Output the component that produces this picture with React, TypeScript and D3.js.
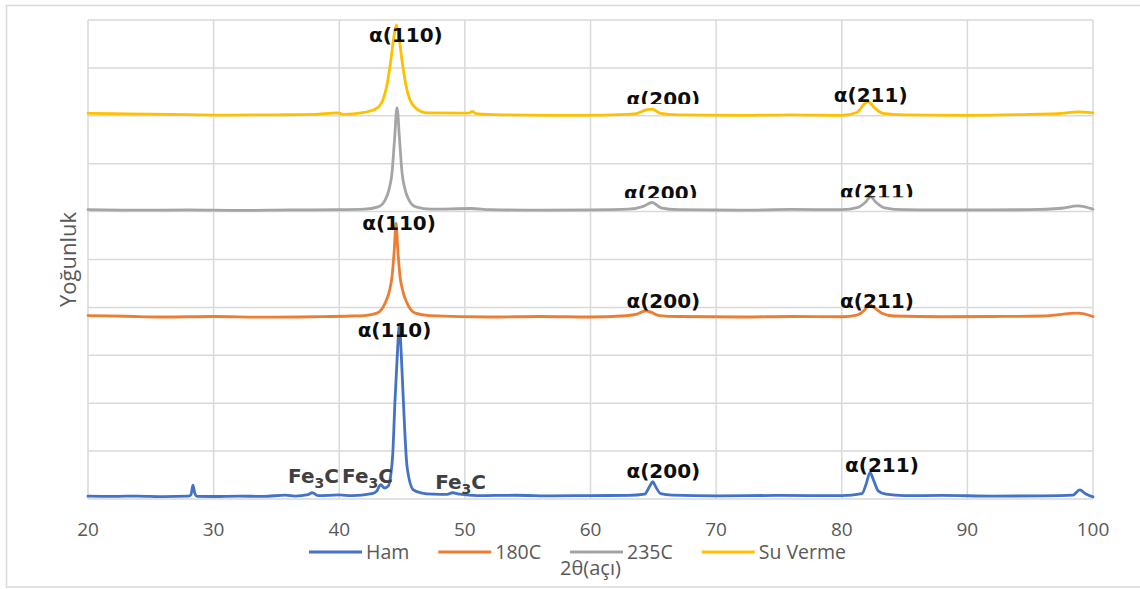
import React, { useEffect, useRef } from 'react';
import * as d3 from 'd3';

const W = 1140;
const H = 589;

// eksen ve seri bilgileri
const xTicks = [20, 30, 40, 50, 60, 70, 80, 90, 100];
const yGrid = [0, 1000, 2000, 3000, 4000, 5000, 6000, 7000, 8000, 9000, 10000];
const seriesNames = ['Ham', '180C', '235C', 'Su Verme'];
const seriesColors = ['#4472C4', '#ED7D31', '#A5A5A5', '#FFC000'];

// [2θ, yoğunluk]
const hamData: [number, number][] = [
  [20, 60], [22, 55], [24, 62], [26, 50], [28, 58], [28.2, 90], [28.35, 290], [28.5, 120], [28.7, 55],
  [30, 52], [32, 60], [34, 55], [35.7, 80], [36.5, 62], [37.5, 90], [37.85, 130], [38.3, 70], [40, 85],
  [41, 70], [42.6, 110], [43.0, 170], [43.3, 300], [43.6, 230], [43.9, 270], [44.1, 500], [44.25, 900],
  [44.44, 2070], [44.62, 3000], [44.78, 3630], [44.94, 3000], [45.1, 2070], [45.4, 670], [45.9, 190],
  [46.5, 130], [47.5, 100], [48.6, 95], [49.0, 130], [49.6, 100], [51, 70], [54, 78], [57, 65], [60, 72],
  [63, 75], [64.3, 100], [64.7, 260], [64.95, 360], [65.2, 250], [65.6, 110], [66.5, 80], [70, 65],
  [75, 75], [80, 70], [81.6, 110], [81.95, 320], [82.25, 550], [82.55, 380], [82.9, 170], [83.5, 100],
  [85, 70], [88, 75], [92, 60], [96, 65], [98.4, 80], [98.95, 190], [99.4, 110], [100, 45],
];

const c180Data: [number, number][] = [
  [20, 3830], [23, 3815], [26, 3800], [30, 3810], [34, 3795], [38, 3805], [41, 3820], [42, 3830],
  [43.0, 3880], [43.65, 4090], [44.0, 4350], [44.2, 4640], [44.38, 5200], [44.52, 5760], [44.66, 5200],
  [44.84, 4640], [45.05, 4350], [45.4, 4090], [46.05, 3880], [47.2, 3830], [52, 3800], [56, 3810],
  [60, 3800], [62.5, 3820], [63.7, 3860], [64.4, 3930], [64.8, 3900], [65.5, 3830], [67, 3810],
  [72, 3800], [76, 3810], [80, 3805], [81.2, 3840], [81.8, 3940], [82.2, 4060], [82.6, 3990],
  [83.2, 3880], [84.2, 3820], [88, 3805], [92, 3810], [96, 3820], [98.8, 3880], [100, 3810],
];

const c235Data: [number, number][] = [
  [20, 6040], [24, 6030], [28, 6035], [32, 6025], [36, 6035], [40, 6040], [42, 6050], [43.1, 6100],
  [43.65, 6240], [44.0, 6500], [44.2, 6810], [44.4, 7500], [44.6, 8170], [44.8, 7500], [45.0, 6810],
  [45.2, 6500], [45.55, 6240], [46.1, 6100], [47.3, 6050], [50.5, 6065], [52, 6040], [56, 6030],
  [60, 6035], [63, 6050], [64.2, 6110], [64.9, 6190], [65.6, 6080], [67, 6040], [72, 6030], [76, 6045],
  [80, 6040], [81.3, 6090], [81.9, 6200], [82.3, 6310], [82.7, 6200], [83.4, 6080], [85, 6040],
  [90, 6035], [95, 6040], [97.5, 6070], [98.8, 6120], [100, 6050],
];

const suVermeData: [number, number][] = [
  [20, 8050], [22, 8045], [25, 8035], [28, 8025], [31, 8015], [35, 8020], [38, 8030], [39.9, 8060],
  [40.3, 8030], [42.0, 8070], [43.0, 8160], [43.5, 8350], [43.8, 8650], [44.1, 9150], [44.35, 9650],
  [44.55, 9900], [44.75, 9650], [45.0, 9150], [45.3, 8650], [45.6, 8350], [46.1, 8160], [47, 8060],
  [50.3, 8055], [50.6, 8090], [50.9, 8045], [53, 8020], [57, 8010], [61, 8015], [63.5, 8040],
  [64.5, 8130], [64.9, 8140], [65.6, 8050], [67, 8020], [72, 8010], [76, 8020], [80, 8010],
  [81.2, 8070], [81.8, 8250], [82.1, 8290], [82.6, 8170], [83.3, 8050], [85, 8020], [90, 8010],
  [95, 8030], [97.5, 8050], [98.8, 8080], [100, 8060],
];

const allSeries = [hamData, c180Data, c235Data, suVermeData];

// pik etiketleri (metin, 2θ, yoğunluk, kesik mi)
const peakLabels = [
  { text: 'α(110)', t: 45.3, v: 9540, cut: false },
  { text: 'α(200)', t: 65.8, v: 8205, cut: true },
  { text: 'α(211)', t: 82.3, v: 8290, cut: false },
  { text: 'α(200)', t: 65.6, v: 6242, cut: true },
  { text: 'α(211)', t: 82.8, v: 6260, cut: true },
  { text: 'α(110)', t: 44.76, v: 5616, cut: false },
  { text: 'α(200)', t: 65.8, v: 3987, cut: false },
  { text: 'α(211)', t: 82.8, v: 3987, cut: false },
  { text: 'α(110)', t: 44.4, v: 3382, cut: false },
  { text: 'α(200)', t: 65.8, v: 438, cut: false },
  { text: 'α(211)', t: 83.2, v: 564, cut: false },
];
const fe3cLabels = [
  { t: 37.95, v: 334 },
  { t: 42.25, v: 334 },
  { t: 49.66, v: 209 },
];

const App: React.FC = () => {
  const svgRef = useRef<SVGSVGElement>(null);

  useEffect(() => {
    if (!svgRef.current) return;
    document.body.style.margin = '0';
    const svg = d3.select(svgRef.current);
    svg.selectAll('*').remove();

    const x = d3.scaleLinear().domain([20, 100]).range([88, 1093]);
    const y = d3.scaleLinear().domain([0, 10000]).range([499, 20]);
    const font = "'Open Sans', sans-serif";

    svg.append('rect').attr('width', W).attr('height', H).attr('fill', '#fff');
    svg.append('rect')
      .attr('x', 6.5).attr('y', 5.5).attr('width', W).attr('height', 581.5)
      .attr('fill', 'none').attr('stroke', '#d9d9d9').attr('stroke-width', 1.5);

    // ızgara
    const grid = svg.append('g').attr('stroke', '#d9d9d9').attr('stroke-width', 1.5);
    grid.selectAll('line.h').data(yGrid).join('line').attr('class', 'h')
      .attr('x1', x(20)).attr('x2', x(100))
      .attr('y1', d => y(d)).attr('y2', d => y(d));
    grid.selectAll('line.v').data(xTicks).join('line').attr('class', 'v')
      .attr('x1', d => x(d)).attr('x2', d => x(d))
      .attr('y1', y(0)).attr('y2', y(10000));

    // x ekseni etiketleri
    svg.append('g').selectAll('text').data(xTicks).join('text')
      .attr('x', d => x(d)).attr('y', 536)
      .attr('text-anchor', 'middle')
      .attr('font-family', font).attr('font-size', 19).attr('fill', '#595959')
      .text(d => d);

    // seriler
    const line = d3.line<[number, number]>()
      .x(d => x(d[0]))
      .y(d => y(d[1]))
      .curve(d3.curveMonotoneX);
    svg.append('g').selectAll('path').data(allSeries).join('path')
      .attr('d', d => line(d))
      .attr('fill', 'none')
      .attr('stroke', (_, i) => seriesColors[i])
      .attr('stroke-width', 2.8)
      .attr('stroke-linejoin', 'round')
      .attr('stroke-linecap', 'round');

    // pik etiketleri
    const defs = svg.append('defs');
    const lab = svg.append('g');
    peakLabels.forEach((p, i) => {
      const t = lab.append('text')
        .attr('x', x(p.t)).attr('y', y(p.v))
        .attr('text-anchor', 'middle')
        .attr('font-family', "'DejaVu Sans', sans-serif")
        .attr('font-weight', 'bold').attr('font-size', 20)
        .attr('fill', '#0d0d0d')
        .text(p.text);
      if (p.cut) {
        defs.append('clipPath').attr('id', `cut${i}`)
          .append('rect')
          .attr('x', x(p.t) - 60).attr('width', 120)
          .attr('y', y(p.v) - 30).attr('height', 28);
        t.attr('clip-path', `url(#cut${i})`);
      }
    });
    fe3cLabels.forEach(f => {
      const t = lab.append('text')
        .attr('x', x(f.t)).attr('y', y(f.v))
        .attr('text-anchor', 'middle')
        .attr('font-family', "'DejaVu Sans', sans-serif")
        .attr('font-weight', 'bold').attr('font-size', 20)
        .attr('fill', '#404040');
      t.append('tspan').text('Fe');
      t.append('tspan').attr('font-size', 14).attr('dy', 5).text('3');
      t.append('tspan').attr('dy', -5).text('C');
    });

    // lejant
    const leg = svg.append('g');
    const items = seriesNames.map((name, i) => {
      const g = leg.append('g');
      g.append('line').attr('x1', 0).attr('x2', 53).attr('y1', 0).attr('y2', 0)
        .attr('stroke', seriesColors[i]).attr('stroke-width', 3);
      const txt = g.append('text').attr('x', 57).attr('y', 7)
        .attr('font-family', font).attr('font-size', 19.5).attr('fill', '#595959')
        .text(name);
      const w = 57 + (txt.node() as SVGTextElement).getComputedTextLength();
      return { g, w };
    });
    const gap = 29;
    const total = d3.sum(items, d => d.w) + gap * (items.length - 1);
    let cx = 577.5 - total / 2;
    items.forEach(it => {
      it.g.attr('transform', `translate(${cx},552)`);
      cx += it.w + gap;
    });

    // eksen başlıkları
    svg.append('text')
      .attr('x', (x(20) + x(100)) / 2).attr('y', 575)
      .attr('text-anchor', 'middle')
      .attr('font-family', font).attr('font-size', 20).attr('fill', '#595959')
      .text('2θ(açı)');
    svg.append('text')
      .attr('transform', `translate(76,${(y(0) + y(10000)) / 2}) rotate(-90)`)
      .attr('text-anchor', 'middle')
      .attr('font-family', font).attr('font-size', 22).attr('fill', '#595959')
      .text('Yoğunluk');
  }, []);

  return <svg ref={svgRef} width={W} height={H} style={{ display: 'block' }} />;
};

export default App;
